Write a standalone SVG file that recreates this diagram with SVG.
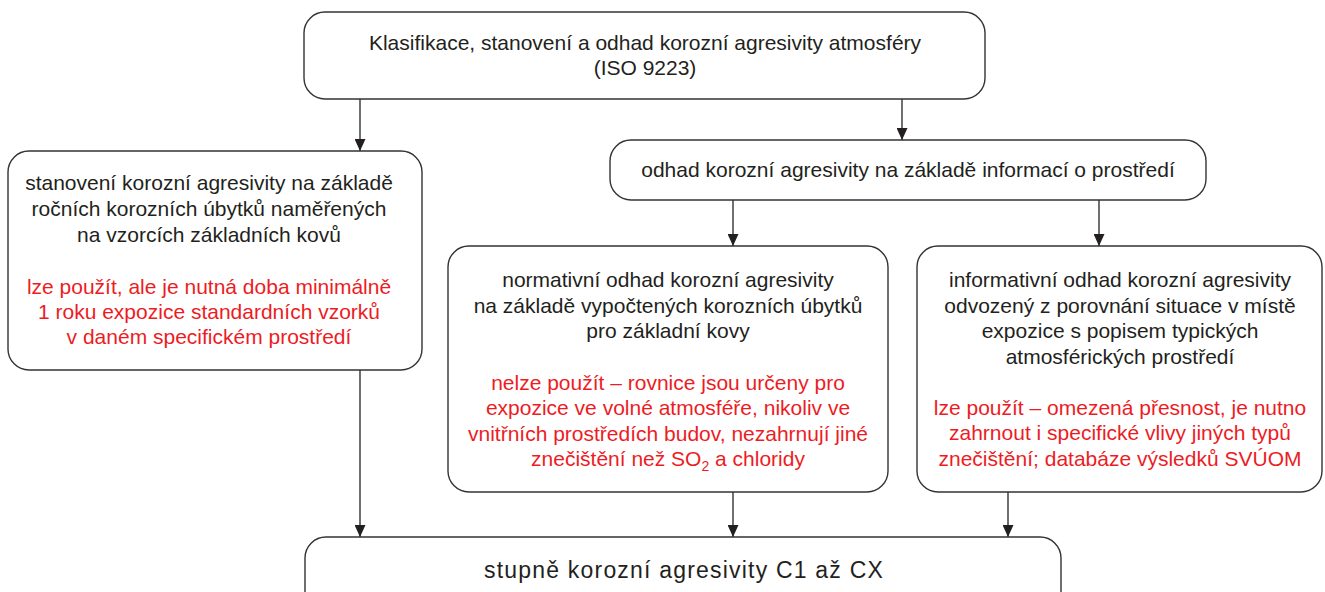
<svg xmlns="http://www.w3.org/2000/svg" width="1325" height="592" viewBox="0 0 1325 592">
<style>
.box{fill:#fff;stroke:#333;stroke-width:1.4}
.t{font-family:"Liberation Sans",Arial,sans-serif;font-size:21px;fill:#231f20;text-anchor:middle}
.r{fill:#ed1c24}
.c{stroke:#333;stroke-width:1.4;fill:none;marker-end:url(#ah)}
</style>
<defs>
<marker id="ah" markerWidth="12" markerHeight="11" refX="12" refY="5.5" orient="auto" markerUnits="userSpaceOnUse" viewBox="0 0 12 11">
<path d="M0,0 L12,5.5 L0,11 Z" fill="#231f20"/>
</marker>
</defs>
<rect width="1325" height="592" fill="#fff"/>
<g id="connectors">
<line class="c" x1="360" y1="99" x2="360" y2="151"/>
<line class="c" x1="902" y1="99" x2="902" y2="140"/>
<line class="c" x1="733" y1="200" x2="733" y2="246"/>
<line class="c" x1="1099" y1="200" x2="1099" y2="246"/>
<line class="c" x1="360" y1="370" x2="360" y2="537"/>
<line class="c" x1="733" y1="492" x2="733" y2="537"/>
<line class="c" x1="1008" y1="492" x2="1008" y2="537"/>
</g>
<g id="top">
<rect class="box" x="304" y="12" width="681" height="87" rx="21"/>
<text class="t" x="645" y="50">Klasifikace, stanovení a odhad korozní agresivity atmosféry</text>
<text class="t" x="645" y="75">(ISO 9223)</text>
</g>
<g id="left">
<rect class="box" x="8" y="151" width="414" height="219" rx="21"/>
<text class="t" x="209" y="190">stanovení korozní agresivity na základě</text>
<text class="t" x="209" y="216">ročních korozních úbytků naměřených</text>
<text class="t" x="209" y="242">na vzorcích základních kovů</text>
<text class="t r" x="209" y="294">lze použít, ale je nutná doba minimálně</text>
<text class="t r" x="209" y="319">1 roku expozice standardních vzorků</text>
<text class="t r" x="209" y="344">v daném specifickém prostředí</text>
</g>
<g id="odhad">
<rect class="box" x="610" y="140" width="596" height="60" rx="21"/>
<text class="t" x="908" y="177">odhad korozní agresivity na základě informací o prostředí</text>
</g>
<g id="normativni">
<rect class="box" x="448" y="246" width="440" height="246" rx="21"/>
<text class="t" x="668" y="287">normativní odhad korozní agresivity</text>
<text class="t" x="668" y="312.5">na základě vypočtených korozních úbytků</text>
<text class="t" x="668" y="338">pro základní kovy</text>
<text class="t r" x="668" y="389.5">nelze použít – rovnice jsou určeny pro</text>
<text class="t r" x="668" y="415">expozice ve volné atmosféře, nikoliv ve</text>
<text class="t r" x="668" y="440.5">vnitřních prostředích budov, nezahrnují jiné</text>
<text class="t r" x="668" y="466">znečištění než SO<tspan dy="5" font-size="14">2</tspan><tspan dy="-5"> a chloridy</tspan></text>
</g>
<g id="informativni">
<rect class="box" x="917" y="246" width="405" height="246" rx="21"/>
<text class="t" x="1120" y="287">informativní odhad korozní agresivity</text>
<text class="t" x="1120" y="312.5">odvozený z porovnání situace v místě</text>
<text class="t" x="1120" y="338">expozice s popisem typických</text>
<text class="t" x="1120" y="363.5">atmosférických prostředí</text>
<text class="t r" x="1120" y="414.5">lze použít – omezená přesnost, je nutno</text>
<text class="t r" x="1120" y="440">zahrnout i specifické vlivy jiných typů</text>
<text class="t r" x="1120" y="465.5">znečištění; databáze výsledků SVÚOM</text>
</g>
<g id="bottom">
<rect class="box" x="305" y="537" width="756" height="80" rx="21"/>
<text class="t" x="684" y="578" style="font-size:23px;letter-spacing:1.2px">stupně korozní agresivity C1 až CX</text>
</g>
</svg>
